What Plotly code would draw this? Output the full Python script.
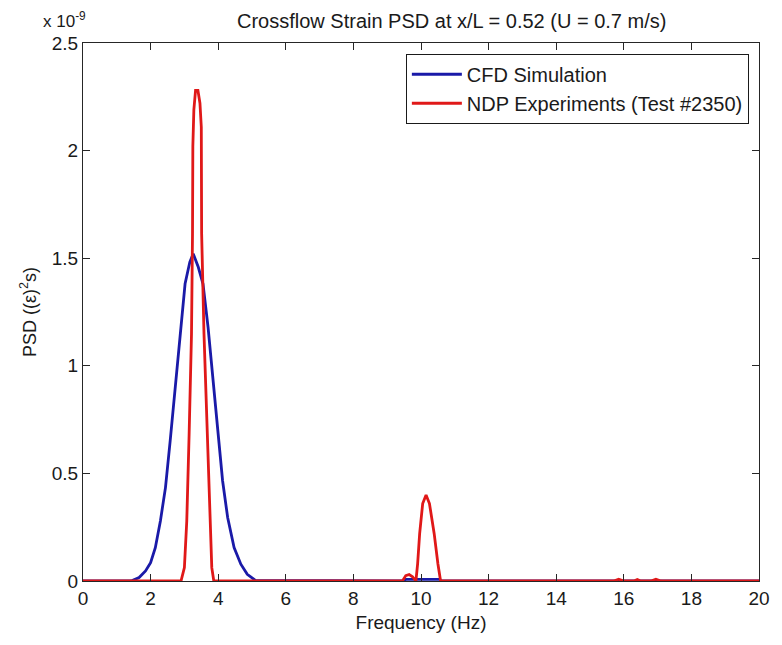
import plotly.graph_objects as go

# PSD values in units of 1e-9 (strain^2 s)
cfd_freq = [0.0, 1.42, 1.66, 1.85, 2.00, 2.14, 2.29, 2.44, 2.58, 2.73, 2.87, 3.02, 3.16, 3.26,
            3.41, 3.55, 3.70, 3.84, 3.99, 4.13, 4.28, 4.47, 4.67, 4.86, 5.10, 9.50, 9.55, 10.55,
            10.60, 20.0]
cfd_psd = [0.0, 0.0, 0.016, 0.047, 0.085, 0.155, 0.279, 0.434, 0.652, 0.900, 1.148, 1.381, 1.482,
           1.521, 1.459, 1.381, 1.179, 0.947, 0.698, 0.466, 0.295, 0.155, 0.078, 0.031, 0.003,
           0.0, 0.008, 0.008, 0.0, 0.0]

ndp_freq = [0.0, 2.90, 3.00, 3.07, 3.14, 3.21, 3.24, 3.25, 3.28, 3.33, 3.40, 3.46, 3.50, 3.51,
            3.58, 3.68, 3.75, 3.81, 3.87, 9.45, 9.55, 9.65, 9.75, 9.85, 9.90, 9.96, 10.05, 10.15,
            10.25, 10.39, 10.50, 10.58, 15.70, 15.85, 16.00, 16.30, 16.40, 16.50, 16.80, 16.95,
            17.10, 20.0]
ndp_psd = [0.0, 0.0, 0.062, 0.279, 0.683, 1.148, 1.614, 2.02, 2.19, 2.28, 2.28, 2.22, 2.11, 1.614,
           1.148, 0.683, 0.279, 0.062, 0.0, 0.0, 0.025, 0.03, 0.02, 0.0, 0.08, 0.22, 0.36, 0.40,
           0.36, 0.22, 0.08, 0.0, 0.0, 0.008, 0.0, 0.0, 0.007, 0.0, 0.0, 0.008, 0.0, 0.0]

x_ticks = [0, 2, 4, 6, 8, 10, 12, 14, 16, 18, 20]
y_ticks = [0, 0.5, 1, 1.5, 2, 2.5]
y_tick_text = ["0", "0.5", "1", "1.5", "2", "2.5"]

FONT = "Liberation Sans, Arial, sans-serif"
AXC = "#262626"

fig = go.Figure()
fig.add_trace(go.Scatter(x=cfd_freq, y=cfd_psd, mode="lines", name="CFD Simulation",
                         line=dict(color="#1a1aa8", width=2.8)))
fig.add_trace(go.Scatter(x=ndp_freq, y=ndp_psd, mode="lines", name="NDP Experiments (Test #2350)",
                         line=dict(color="#e01818", width=2.8)))

fig.update_layout(
    width=782, height=645,
    margin=dict(l=83, r=12, t=43, b=64),
    paper_bgcolor="white", plot_bgcolor="white",
    font=dict(family=FONT, size=19, color="#1a1a1a"),
    title=dict(text="Crossflow Strain PSD at x/L = 0.52 (U = 0.7 m/s)", x=(426.5) / 782,
               xanchor="center", xref="paper", y=1 - 21 / 645, yanchor="middle",
               font=dict(size=20)),
    showlegend=True,
    legend=dict(x=0.985, y=0.98, xanchor="right", yanchor="top", bordercolor="#1a1a1a",
                borderwidth=1, bgcolor="white", font=dict(size=20), tracegroupgap=0,
                itemwidth=50),
    xaxis=dict(range=[0, 20], tickvals=x_ticks, ticks="inside", ticklen=7, tickcolor=AXC,
               showline=True, linecolor=AXC, linewidth=1, mirror="ticks", showgrid=False,
               zeroline=False, title=dict(text="Frequency (Hz)", standoff=7, font=dict(size=19)),
               tickfont=dict(size=19)),
    yaxis=dict(range=[0, 2.5], tickvals=y_ticks, ticktext=y_tick_text, ticks="inside", ticklen=7,
               tickcolor=AXC, showline=True, linecolor=AXC, linewidth=1, mirror="ticks",
               showgrid=False, zeroline=False,
               title=dict(text="PSD ((ε)<sup>2</sup>s)", standoff=10, font=dict(size=18)),
               tickfont=dict(size=19)),
)

fig.add_annotation(text="x 10<sup>-9</sup>", xref="paper", yref="paper", x=(40 - 83) / 687, y=1.0,
                   xanchor="left", yanchor="bottom", yshift=10, showarrow=False,
                   font=dict(size=17, family=FONT))

fig.write_html("out.html")
